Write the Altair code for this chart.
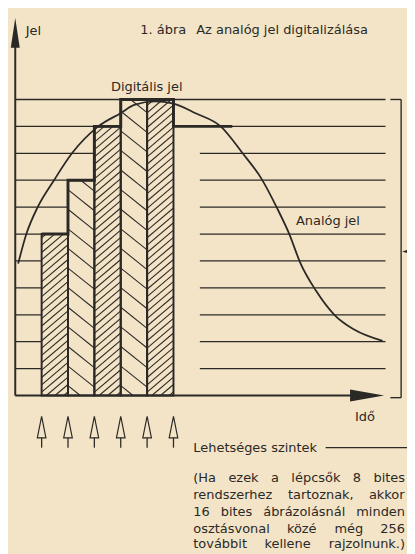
import altair as alt
import pandas as pd

# ---------------- data ----------------
LEVELS = list(range(1, 12))                 # quantisation levels (horizontal lines)
SAMPLE_T = [1, 2, 3, 4, 5, 6]               # sampling instants (arrows)
SAMPLE_LEVEL = [6, 8, 10, 11, 11, 10]       # quantised value at each sample
BAR_HATCH = ["/", "\\", "/", "\\", "/"]     # hatch direction of each step bar
HOLD_END = 8.23                             # last held value drawn until here
GRID_END = 14.04                            # level lines end
GRID_GAP = (6.0, 7.0)                       # gap in the lower level lines
GAP_LEVELS_MAX = 9
ANALOG_T = [0.11, 0.42, 0.85, 1.47, 2.15, 3.15, 4.01, 4.51, 5.3, 6.0, 6.86,
            7.79, 8.6, 9.34, 9.9, 10.4, 10.8, 11.4, 12.1, 12.85, 13.93]
ANALOG_L = [4.9, 6.0, 7.0, 8.0, 9.0, 10.0, 10.5, 10.8, 10.93, 10.85, 10.48,
            10.0, 9.03, 8.05, 7.02, 5.98, 4.95, 3.9, 3.0, 2.45, 2.03]

Y_LABEL = "Jel"
X_LABEL = "Idő"
TITLE_NUM = "1. ábra"
TITLE = "Az analóg jel digitalizálása"
DIGITAL_LABEL = "Digitális jel"
ANALOG_LABEL = "Analóg jel"
LEVELS_LABEL = "Lehetséges szintek"
NOTE_LINES = ["(Ha ezek a lépcsők 8 bites",
              "rendszerhez tartoznak, akkor",
              "16 bites ábrázolásnál minden",
              "osztásvonal közé még 256",
              "továbbit kellene rajzolnunk.)"]

# ---------------- style / layout ----------------
BG = "#f3e4c7"
INK = "#2b2926"
FONT = "DejaVu Sans"
FS = 13.2

W, H = 407, 546
X_UNIT, X0 = 26.9, 7.4      # px per time unit, svg x of t=0
Y_UNIT, Y0 = 27.45, 389.8   # px per level, svg y of level 0


def t_of(px):
    return (px - 8 - X0) / X_UNIT


def l_of(py):
    return (Y0 - (py - 8)) / Y_UNIT


XS = alt.Scale(domain=[t_of(8), t_of(8 + W)], nice=False, zero=False)
YS = alt.Scale(domain=[l_of(8 + H), l_of(8)], nice=False, zero=False)


def X(f):
    return alt.X(f, scale=XS, axis=None)


def Y(f):
    return alt.Y(f, scale=YS, axis=None)


# paper background
paper = alt.Chart(pd.DataFrame({"k": [0]})).mark_rect(color=BG, opacity=1).encode(
    x=alt.value(0), x2=alt.value(W), y=alt.value(0), y2=alt.value(H))

# level lines
rows = []
for L in LEVELS:
    if L <= GAP_LEVELS_MAX:
        rows.append(dict(a=0, b=GRID_GAP[0], L=L))
        rows.append(dict(a=GRID_GAP[1], b=GRID_END, L=L))
    else:
        rows.append(dict(a=0, b=GRID_END, L=L))
grid = alt.Chart(pd.DataFrame(rows)).mark_rule(color=INK, strokeWidth=1.3).encode(
    x=X("a:Q"), x2="b:Q", y=Y("L:Q"))

# bars
bars = pd.DataFrame({"t0": SAMPLE_T[:-1], "t1": SAMPLE_T[1:], "L": SAMPLE_LEVEL[:-1],
                     "base": 0, "hatch": BAR_HATCH})
bar_fill = alt.Chart(bars).mark_rect(color=BG, opacity=1).encode(
    x=X("t0:Q"), x2="t1:Q", y=Y("base:Q"), y2="L:Q")
bar_edge = alt.Chart(bars).mark_rect(fillOpacity=0, stroke=INK, strokeWidth=2).encode(
    x=X("t0:Q"), x2="t1:Q", y=Y("base:Q"), y2="L:Q")

# hatching derived from bar geometry
SLASH = dict(sp=7.5, slope=0.85)
BACK = dict(sp=20.0, slope=0.8)
hrows = []
for t0, t1, top, h in zip(bars.t0, bars.t1, bars.L, bars.hatch):
    p = SLASH if h == "/" else BACK
    sp = p["sp"] / Y_UNIT
    s = p["slope"] * X_UNIT / Y_UNIT
    w = t1 - t0
    if h == "/":
        c = -s * w + sp * 0.5
        while c < top:
            te = t0 + max(0.0, -c / s)
            tx = t0 + min(w, (top - c) / s)
            if tx > te:
                hrows.append(dict(a=te, b=tx, la=c + s * (te - t0), lb=c + s * (tx - t0)))
            c += sp
    else:
        c = sp * 0.5
        while c < top + s * w:
            te = t0 + max(0.0, (c - top) / s)
            tx = t0 + min(w, c / s)
            if tx > te:
                hrows.append(dict(a=te, b=tx, la=c - s * (te - t0), lb=c - s * (tx - t0)))
            c += sp
hatch = alt.Chart(pd.DataFrame(hrows)).mark_rule(color=INK, strokeWidth=1.1).encode(
    x=X("a:Q"), x2="b:Q", y=Y("la:Q"), y2="lb:Q")

# analog curve
analog = alt.Chart(pd.DataFrame({"t": ANALOG_T, "L": ANALOG_L})).mark_line(
    color=INK, strokeWidth=1.8, interpolate="monotone").encode(x=X("t:Q"), y=Y("L:Q"))

# digital signal
dig = pd.DataFrame({"t": SAMPLE_T + [HOLD_END], "L": SAMPLE_LEVEL + [SAMPLE_LEVEL[-1]]})
digital = alt.Chart(dig).mark_line(color=INK, strokeWidth=3, interpolate="step-after").encode(
    x=X("t:Q"), y=Y("L:Q"))

# axes
axes_df = pd.DataFrame([
    dict(a=0, b=0, la=0, lb=l_of(40)),
    dict(a=0, b=t_of(362), la=0, lb=0),
])
axes = alt.Chart(axes_df).mark_rule(color=INK, strokeWidth=2).encode(
    x=X("a:Q"), x2="b:Q", y=Y("la:Q"), y2="lb:Q")
y_arrow = alt.Chart(pd.DataFrame({"t": [0], "L": [l_of(27.85)]})).mark_point(
    shape="M0,-1L0.3,1L-0.3,1Z", size=918, filled=True, color=INK, opacity=1).encode(
    x=X("t:Q"), y=Y("L:Q"))
x_arrow = alt.Chart(pd.DataFrame({"t": [t_of(374.3)], "L": [0]})).mark_point(
    shape="M1,0L-1,-0.35L-1,0.35Z", size=1204, filled=True, color=INK, opacity=1).encode(
    x=X("t:Q"), y=Y("L:Q"))

# bracket of possible levels
br_df = pd.DataFrame([
    dict(a=t_of(409), b=t_of(409), la=l_of(400), lb=LEVELS[-1]),
    dict(a=t_of(398), b=t_of(409), la=LEVELS[-1], lb=LEVELS[-1]),
    dict(a=t_of(398), b=t_of(409), la=l_of(400), lb=l_of(400)),
    dict(a=t_of(332), b=t_of(416), la=l_of(451), lb=l_of(451)),
])
bracket = alt.Chart(br_df).mark_rule(color=INK, strokeWidth=1.4).encode(
    x=X("a:Q"), x2="b:Q", y=Y("la:Q"), y2="lb:Q")
br_arrow = alt.Chart(pd.DataFrame({"t": [t_of(420)], "L": [l_of(251)]})).mark_point(
    shape="M-1,0L1,-0.6L1,0.6Z", size=400, filled=True, color=INK, opacity=1).encode(
    x=X("t:Q"), y=Y("L:Q"))

# sampling arrows
samp = pd.DataFrame({"t": SAMPLE_T, "head": l_of(430), "s0": l_of(441), "s1": l_of(451)})
samp_head = alt.Chart(samp).mark_point(
    shape="M0,-1L0.4,1L-0.4,1Z", size=484, filled=False, color=INK, strokeWidth=1.2,
    opacity=1).encode(x=X("t:Q"), y=Y("head:Q"))
samp_stem = alt.Chart(samp).mark_rule(color=INK, strokeWidth=1.3).encode(
    x=X("t:Q"), y=Y("s0:Q"), y2="s1:Q")

# texts
DV = {" ": 651, "(": 799, ")": 799, ",": 651, ".": 651, "H": 1540, "L": 1140,
      "a": 1255, "á": 1255, "b": 1300, "c": 1126, "d": 1300, "e": 1260, "é": 1260,
      "g": 1300, "h": 1298, "i": 569, "j": 569, "k": 1186, "l": 569, "m": 1995,
      "n": 1298, "o": 1253, "ó": 1253, "ő": 1253, "p": 1300, "r": 842, "s": 1067,
      "t": 803, "u": 1298, "v": 1212, "z": 1075}


def tw(s):
    return sum(DV.get(ch, 1303) for ch in s) / 2048 * FS


trows = [
    (Y_LABEL, 26, 30.5), (TITLE_NUM, 143, 29.5), (TITLE, 200, 29.5),
    (DIGITAL_LABEL, 113, 87.7), (ANALOG_LABEL, 301.7, 224), (X_LABEL, 362, 423.3),
    (LEVELS_LABEL, 197, 455),
]
NOTE_BASE = [486, 503.5, 521, 538, 553]
for line, yb in zip(NOTE_LINES, NOTE_BASE):
    words = line.split(" ")
    widths = [tw(w) for w in words]
    gap = (413 - 197 - sum(widths)) / (len(words) - 1)
    x = 197
    for wd, ww in zip(words, widths):
        trows.append((wd, x, yb))
        x += ww + gap
tdf = pd.DataFrame({"text": [r[0] for r in trows], "t": [t_of(r[1]) for r in trows],
                    "L": [l_of(r[2]) for r in trows]})
texts = alt.Chart(tdf).mark_text(align="left", baseline="alphabetic", font=FONT,
                                 fontSize=FS, color=INK).encode(
    x=X("t:Q"), y=Y("L:Q"), text="text:N")

chart = alt.layer(
    paper, grid, bar_fill, hatch, bar_edge, analog, digital, axes, y_arrow, x_arrow,
    bracket, br_arrow, samp_head, samp_stem, texts
).properties(
    width=W, height=H, autosize=alt.AutoSizeParams(type="none"), padding=0, background=BG
).configure(background=BG).configure_view(strokeWidth=0)

chart.save("out.html", embed_options={"renderer": "svg", "actions": False})
